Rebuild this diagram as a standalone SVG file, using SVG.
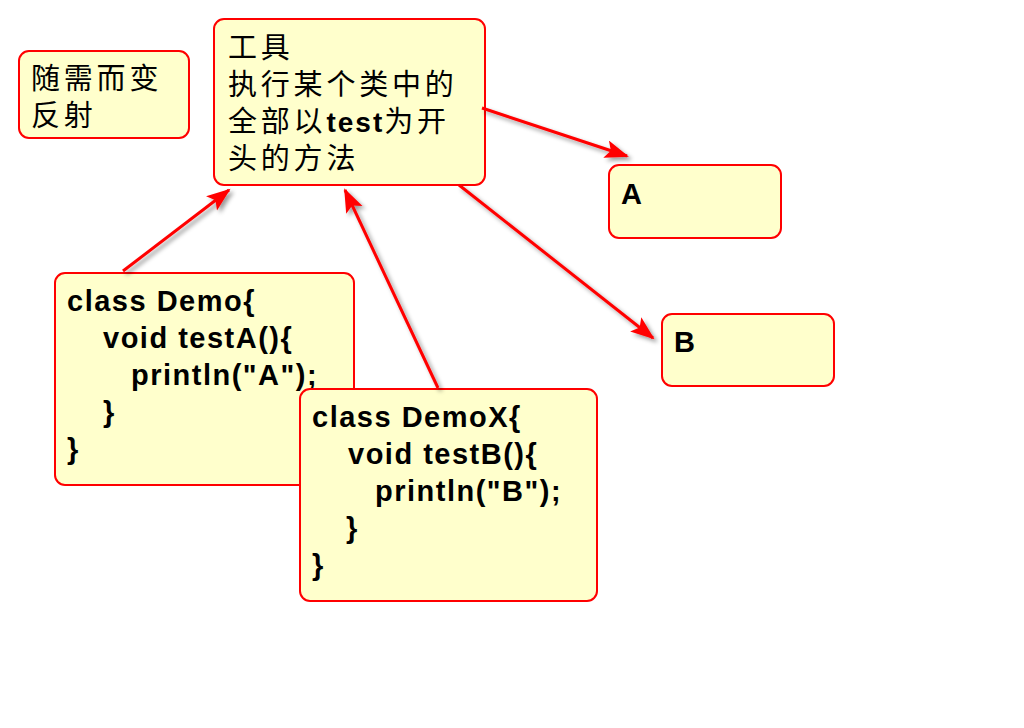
<svg xmlns="http://www.w3.org/2000/svg" width="1024" height="728" viewBox="0 0 1024 728">
<style>
.box{fill:#FFFFCC;stroke:#FF0000;stroke-width:2}
.cjk{font-family:"Noto Sans CJK SC","Liberation Sans",sans-serif;font-size:29px;letter-spacing:3.8px;fill:#000}
.lat{font-family:"Liberation Sans",Arial,sans-serif;font-weight:bold}
.code{font-family:"Liberation Sans",Arial,sans-serif;font-weight:bold;font-size:29px;letter-spacing:1.5px;fill:#000}
.conn{stroke:#FF0000;stroke-width:3;fill:none;marker-end:url(#ah)}
</style>
<defs>
<marker id="ah" markerUnits="userSpaceOnUse" markerWidth="26" markerHeight="20" refX="22" refY="9" orient="auto">
<path d="M0,0 L24,9 L0,18 L5,9 z" fill="#FF0000"/>
</marker>
<filter id="sh" x="-20%" y="-20%" width="140%" height="140%">
<feDropShadow dx="3" dy="3" stdDeviation="2" flood-color="#000" flood-opacity="0.4"/>
</filter>
</defs>
<rect width="1024" height="728" fill="#FFFFFF"/>
<g id="reflect">
<rect class="box" x="19" y="51" width="170" height="87" rx="10"/>
<text class="cjk" x="31" y="89">随需而变</text>
<text class="cjk" x="31" y="126">反射</text>
</g>
<g id="tool">
<rect class="box" x="214" y="19" width="271" height="166" rx="10"/>
<text class="cjk" x="228" y="58">工具</text>
<text class="cjk" x="228" y="95">执行某个类中的</text>
<text class="cjk" x="228" y="132">全部以<tspan class="lat" font-size="28" letter-spacing="2">test</tspan>为开</text>
<text class="cjk" x="228" y="169">头的方法</text>
</g>
<g id="nodeA">
<rect class="box" x="609" y="165" width="172" height="73" rx="10"/>
<text class="code" x="621" y="204">A</text>
</g>
<g id="nodeB">
<rect class="box" x="662" y="314" width="172" height="72" rx="10"/>
<text class="code" x="674" y="352">B</text>
</g>
<g id="demo">
<rect class="box" x="55" y="273" width="299" height="212" rx="10"/>
<text class="code" x="67" y="311">class Demo{</text>
<text class="code" x="103" y="348">void testA(){</text>
<text class="code" x="131" y="385">println("A");</text>
<text class="code" x="103" y="422">}</text>
<text class="code" x="67" y="459">}</text>
</g>
<g id="demox">
<rect class="box" x="300" y="389" width="297" height="212" rx="10"/>
<text class="code" x="312" y="427">class DemoX{</text>
<text class="code" x="348" y="464">void testB(){</text>
<text class="code" x="375" y="501">println("B");</text>
<text class="code" x="346" y="538">}</text>
<text class="code" x="312" y="575">}</text>
</g>
<g id="connectors" filter="url(#sh)">
<line class="conn" x1="123" y1="271" x2="229" y2="190"/>
<line class="conn" x1="438" y1="388" x2="345" y2="190"/>
<line class="conn" x1="482" y1="108" x2="627" y2="156"/>
<line class="conn" x1="459" y1="185" x2="653" y2="338"/>
</g>
</svg>
